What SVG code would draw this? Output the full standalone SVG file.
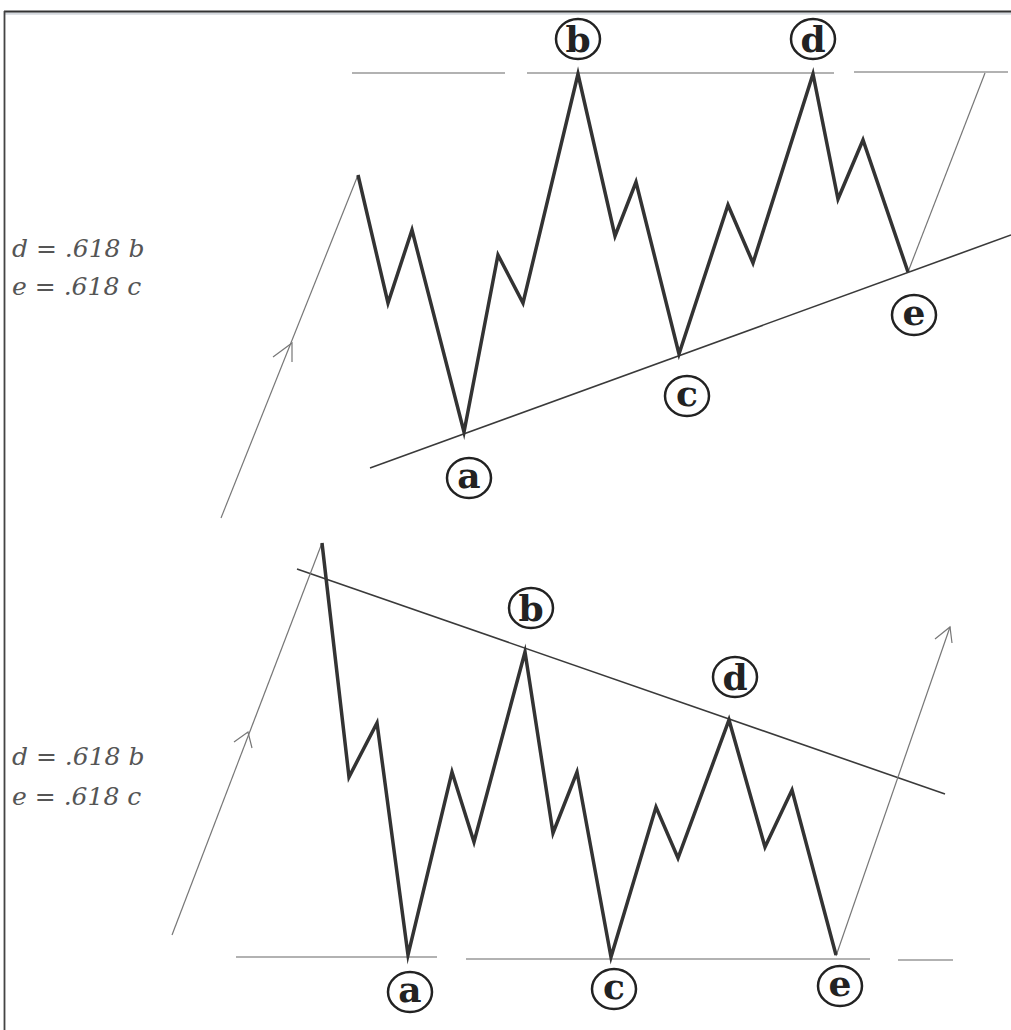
<svg xmlns="http://www.w3.org/2000/svg" width="1011" height="1030" viewBox="0 0 1011 1030">
<style>
.wave{fill:none;stroke:#333;stroke-width:3.5;stroke-linejoin:miter;stroke-miterlimit:10}
.thin{fill:none;stroke:#777;stroke-width:1.2}
.trend{fill:none;stroke:#3a3a3a;stroke-width:1.6}
.hz{fill:none;stroke:#999;stroke-width:1.5}
.ring{fill:#fff;stroke:#222;stroke-width:2.5}
.lbl{font-family:"DejaVu Serif","Liberation Serif",serif;font-weight:bold;font-size:36px;fill:#222;text-anchor:middle}
.note{font-family:"DejaVu Serif","Liberation Serif",serif;font-style:italic;font-size:25px;fill:#555}
</style>
<rect width="1011" height="1030" fill="#fff"/>
<g id="frame">
<line x1="4" y1="13.5" x2="1011" y2="13.5" stroke="#d4d8de" stroke-width="2.5"/>
<line x1="4" y1="11.5" x2="1011" y2="11.5" stroke="#333" stroke-width="1.8"/>
<line x1="4.5" y1="11" x2="4.5" y2="1030" stroke="#444" stroke-width="1.8"/>
</g>
<g id="connectors">
<line class="hz" x1="352" y1="73" x2="505" y2="73"/>
<line class="hz" x1="527" y1="73" x2="834" y2="73"/>
<line class="hz" x1="854" y1="72" x2="1008" y2="72"/>
<line class="trend" x1="370" y1="468" x2="1011" y2="235"/>
<polyline class="thin" points="221,518 358,175"/>
<polyline class="thin" points="273,357 292,343 292,362"/>
<polyline class="thin" points="908,272 985,73"/>
<polyline class="wave" points="358,175 388,303 412,230 464,432 498,255 523,303 578,74 615,236 636,182 679,354 728,205 753,263 813,74 838,199 863,140 908,272"/>
<line class="hz" x1="236" y1="957" x2="437" y2="957"/>
<line class="hz" x1="466" y1="959" x2="870" y2="959"/>
<line class="hz" x1="898" y1="960" x2="953" y2="960"/>
<line class="trend" x1="297" y1="569" x2="945" y2="794"/>
<polyline class="thin" points="172,935 322,543"/>
<polyline class="thin" points="234,742 248,732 252,748"/>
<polyline class="thin" points="836,956 950,627"/>
<polyline class="thin" points="935,639 950,627 952,643"/>
<polyline class="wave" points="322,543 349,777 377,723 408,955 452,772 474,842 525,652 553,833 577,772 611,957 656,807 678,858 729,720 765,847 792,790 836,955"/>
</g>
<g id="notes">
<text class="note" x="12" y="257">d = .618 b</text>
<text class="note" x="12" y="295">e = .618 c</text>
<text class="note" x="12" y="765">d = .618 b</text>
<text class="note" x="12" y="805">e = .618 c</text>
</g>
<g id="top-b"><ellipse class="ring" cx="578" cy="39" rx="22" ry="20"/><text class="lbl" x="578" y="52">b</text></g>
<g id="top-d"><ellipse class="ring" cx="813" cy="39" rx="22" ry="20"/><text class="lbl" x="813" y="52">d</text></g>
<g id="top-a"><ellipse class="ring" cx="469" cy="478" rx="22" ry="20"/><text class="lbl" x="469" y="488">a</text></g>
<g id="top-c"><ellipse class="ring" cx="687" cy="396" rx="22" ry="20"/><text class="lbl" x="687" y="406">c</text></g>
<g id="top-e"><ellipse class="ring" cx="914" cy="315" rx="22" ry="20"/><text class="lbl" x="914" y="325">e</text></g>
<g id="bot-b"><ellipse class="ring" cx="531" cy="608" rx="22" ry="20"/><text class="lbl" x="531" y="621">b</text></g>
<g id="bot-d"><ellipse class="ring" cx="735" cy="677" rx="22" ry="20"/><text class="lbl" x="735" y="690">d</text></g>
<g id="bot-a"><ellipse class="ring" cx="410" cy="992" rx="22" ry="20"/><text class="lbl" x="410" y="1002">a</text></g>
<g id="bot-c"><ellipse class="ring" cx="614" cy="989" rx="22" ry="20"/><text class="lbl" x="614" y="999">c</text></g>
<g id="bot-e"><ellipse class="ring" cx="840" cy="986" rx="22" ry="20"/><text class="lbl" x="840" y="996">e</text></g>
</svg>
